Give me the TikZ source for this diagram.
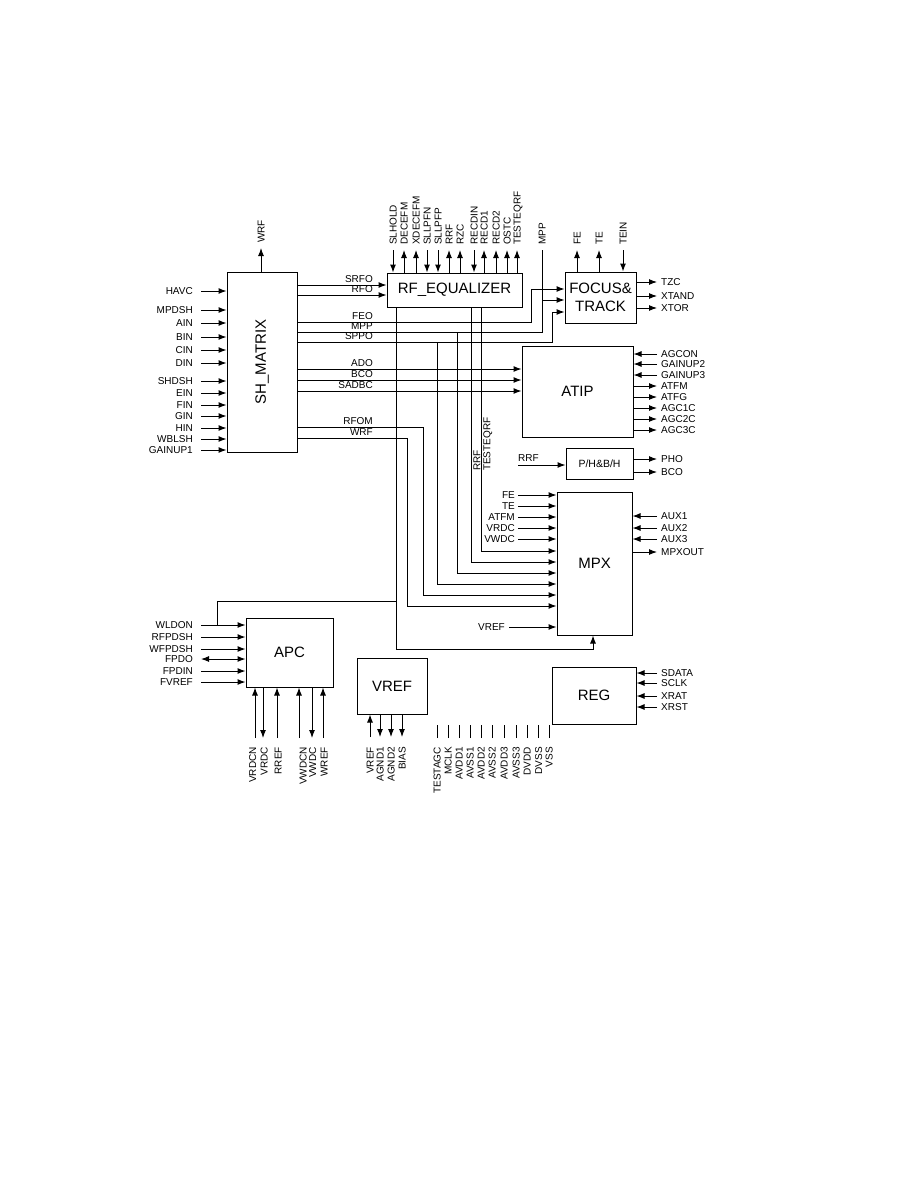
\documentclass[tikz,border=0pt]{standalone}
\usepackage{fontspec}
\setmainfont{Liberation Sans}
\usetikzlibrary{arrows.meta}

\tikzset{
  blk/.style={draw, line width=1pt, inner sep=0pt, align=center, font=\fontsize{15}{18}\selectfont},
  lbl/.style={inner sep=0pt, font=\fontsize{10}{12}\selectfont, text height=7.2pt, text depth=0pt},
  vlbl/.style={lbl, rotate=90},
  sig/.style={line width=1pt},
  pin/.style={sig, -{Latex[length=8pt,width=6pt]}},
  bipin/.style={sig, {Latex[length=8pt,width=6pt]}-{Latex[length=8pt,width=6pt]}}
}

\begin{document}
\begin{tikzpicture}[x=1pt, y=-1pt]
  \useasboundingbox (0,0) rectangle (918,1188);

  % --- Blocks ---
  \node[blk, minimum width=70pt, minimum height=180pt] (shm) at (262,362) {\rotatebox{90}{SH\_MATRIX}};
  \node[blk, minimum width=135pt, minimum height=34pt] (rfeq) at (454.5,290) {RF\_EQUALIZER};
  \node[blk, minimum width=71pt, minimum height=51pt] (ft) at (600.5,297.5) {FOCUS\&\\TRACK};
  \node[blk, minimum width=111pt, minimum height=91pt] (atip) at (577.5,391.5) {ATIP};
  \node[blk, minimum width=67pt, minimum height=31pt, font=\fontsize{10.5}{12}\selectfont] (ph) at (599.5,463.5) {P/H\&B/H};
  \node[blk, minimum width=75pt, minimum height=143pt] (mpx) at (594.5,563.5) {MPX};
  \node[blk, minimum width=87pt, minimum height=69pt] (apc) at (289.5,652.5) {APC};
  \node[blk, minimum width=70pt, minimum height=56pt] (vref) at (392,686) {VREF};
  \node[blk, minimum width=84pt, minimum height=57pt] (reg) at (594,695.5) {REG};

  % --- SH_MATRIX: inputs and WRF ---
  \foreach \nm/\yy in {HAVC/291, MPDSH/310, AIN/323, BIN/337, CIN/350, DIN/363, SHDSH/381,
                       EIN/393, FIN/405, GIN/416, HIN/428, WBLSH/439, GAINUP1/450}{
    \node[lbl, anchor=east] (sm-\nm) at (193,\yy) {\nm};
    \draw[pin] ([xshift=8pt]sm-\nm.east) -- (sm-\nm.east -| shm.west);
  }
  \node[vlbl, anchor=west] (sm-WRF) at (261,243) {WRF};
  \draw[pin] (sm-WRF.west |- shm.north) -- ([yshift=-5pt]sm-WRF.west);

  % SH_MATRIX output labels
  \foreach \nm/\yy in {SRFO/285, RFO/295, FEO/322, MPP/332, SPPO/342, ADO/369, BCO/380,
                       SADBC/391, RFOM/427, WRF/438}{
    \node[lbl, anchor=south east] (so-\nm) at (373,\yy-2) {\nm};
  }

  % --- RF_EQUALIZER pins ---
  \foreach \nm/\xx in {SLHOLD/393, SLLPFN/427, SLLPFP/438, RECDIN/474}{
    \node[vlbl, anchor=west] (et-\nm) at (\xx,245) {\nm};
    \draw[pin] ([yshift=-5pt]et-\nm.west) -- (et-\nm.west |- rfeq.north);
  }
  \foreach \nm/\xx in {DECEFM/404, XDECEFM/416, RRF/449, RZC/460, RECD1/484, RECD2/496,
                       OSTC/507, TESTEQRF/517}{
    \node[vlbl, anchor=west] (et-\nm) at (\xx,245) {\nm};
    \draw[pin] (et-\nm.west |- rfeq.north) -- ([yshift=-5pt]et-\nm.west);
  }
  \node[vlbl, anchor=west] (ext-MPP) at (542,245) {MPP};

  % SRFO, RFO into RF_EQUALIZER
  \draw[pin] (shm.east |- 0,285) -- (rfeq.west |- 0,285);
  \draw[pin] (shm.east |- 0,295) -- (rfeq.west |- 0,295);

  % FEO, MPP, SPPO into FOCUS&TRACK
  \draw[pin] (shm.east |- 0,322) -- (531,322) -- (531,289) -- (ft.west |- 0,289);
  \draw[sig] (shm.east |- 0,332) -- (ext-MPP.west |- 0,332) -- ([yshift=-5pt]ext-MPP.west);
  \draw[pin] (ext-MPP.west |- 0,300) -- (ft.west |- 0,300);
  \draw[pin] (shm.east |- 0,342) -- (552,342) -- (552,312) -- (ft.west |- 0,312);

  % ADO, BCO, SADBC into ATIP
  \foreach \yy in {369,380,391}{
    \draw[pin] (shm.east |- 0,\yy) -- (atip.west |- 0,\yy);
  }

  % routes down to MPX
  \draw[pin] (rfeq.south -| 481,0) -- (481,551) -- (mpx.west |- 0,551);
  \draw[pin] (rfeq.south -| 471,0) -- (471,562) -- (mpx.west |- 0,562);
  \draw[pin] (457,332) -- (457,573) -- (mpx.west |- 0,573);
  \draw[pin] (437,342) -- (437,584) -- (mpx.west |- 0,584);
  \draw[pin] (shm.east |- 0,427) -- (423,427) -- (423,595) -- (mpx.west |- 0,595);
  \draw[pin] (shm.east |- 0,438) -- (407,438) -- (407,606) -- (mpx.west |- 0,606);
  \draw[pin] (rfeq.south -| 396,0) -- (396,649) -- (593,649) -- (mpx.south -| 593,0);
  \node[vlbl, anchor=north west] (eq-RRF) at (473,471) {RRF};
  \node[vlbl, anchor=north west] (eq-TESTEQRF) at (483,471) {TESTEQRF};

  % --- FOCUS&TRACK pins ---
  \foreach \nm/\xx in {FE/577, TE/599}{
    \node[vlbl, anchor=west] (fo-\nm) at (\xx,245) {\nm};
    \draw[pin] (fo-\nm.west |- ft.north) -- ([yshift=-5pt]fo-\nm.west);
  }
  \node[vlbl, anchor=west] (fo-TEIN) at (623,245) {TEIN};
  \draw[pin] ([yshift=-5pt]fo-TEIN.west) -- (fo-TEIN.west |- ft.north);
  \foreach \nm/\yy in {TZC/282, XTAND/296, XTOR/308}{
    \node[lbl, anchor=west] (fr-\nm) at (661,\yy) {\nm};
    \draw[pin] (fr-\nm.west -| ft.east) -- ([xshift=-4pt]fr-\nm.west);
  }

  % --- ATIP pins ---
  \foreach \nm/\yy in {AGCON/354, GAINUP2/364, GAINUP3/375}{
    \node[lbl, anchor=west] (at-\nm) at (661,\yy) {\nm};
    \draw[pin] ([xshift=-4pt]at-\nm.west) -- (at-\nm.west -| atip.east);
  }
  \foreach \nm/\yy in {ATFM/386, ATFG/397, AGC1C/408, AGC2C/419, AGC3C/430}{
    \node[lbl, anchor=west] (at-\nm) at (661,\yy) {\nm};
    \draw[pin] (at-\nm.west -| atip.east) -- ([xshift=-4pt]at-\nm.west);
  }

  % --- P/H&B/H pins ---
  \node[lbl, anchor=south west] (ph-RRF) at (518,462) {RRF};
  \draw[pin] ([yshift=-3pt]ph-RRF.south west) -- (ph.west |- 0,465);
  \foreach \nm/\yy in {PHO/459, BCO/472}{
    \node[lbl, anchor=west] (pr-\nm) at (661,\yy) {\nm};
    \draw[pin] (pr-\nm.west -| ph.east) -- ([xshift=-4pt]pr-\nm.west);
  }

  % --- MPX pins ---
  \foreach \nm/\yy in {FE/495, TE/506, ATFM/517, VRDC/528, VWDC/539}{
    \node[lbl, anchor=east] (ml-\nm) at (515,\yy) {\nm};
    \draw[pin] ([xshift=3pt]ml-\nm.east) -- (ml-\nm.east -| mpx.west);
  }
  \node[lbl, anchor=east] (ml-VREF) at (505,627) {VREF};
  \draw[pin] ([xshift=4pt]ml-VREF.east) -- (ml-VREF.east -| mpx.west);
  \foreach \nm/\yy in {AUX1/516, AUX2/528, AUX3/539}{
    \node[lbl, anchor=west] (mr-\nm) at (661,\yy) {\nm};
    \draw[pin] ([xshift=-4pt]mr-\nm.west) -- (mr-\nm.west -| mpx.east);
  }
  \node[lbl, anchor=west] (mr-MPXOUT) at (661,552) {MPXOUT};
  \draw[pin] (mr-MPXOUT.west -| mpx.east) -- ([xshift=-4pt]mr-MPXOUT.west);

  % --- APC pins ---
  \foreach \nm/\yy in {WLDON/625, RFPDSH/637, WFPDSH/649, FPDIN/671, FVREF/682}{
    \node[lbl, anchor=east] (al-\nm) at (193,\yy) {\nm};
    \draw[pin] ([xshift=8pt]al-\nm.east) -- (al-\nm.east -| apc.west);
  }
  \node[lbl, anchor=east] (al-FPDO) at (193,659) {FPDO};
  \draw[bipin] ([xshift=8pt]al-FPDO.east) -- (al-FPDO.east -| apc.west);
  \draw[sig] (396,601) -- (217,601) -- (217,625);
  % pin x / label x
  \foreach \nm/\xx/\lx in {VRDCN/255/252.5, RREF/277/278, VWDCN/299/303, WREF/323/324}{
    \node[vlbl, anchor=east] (ab-\nm) at (\lx,747) {\nm};
    \coordinate (ab-\nm-end) at (\xx,738);
    \draw[pin] (ab-\nm-end) -- (ab-\nm-end |- apc.south);
  }
  \foreach \nm/\xx/\lx in {VRDC/263/264, VWDC/312/312.5}{
    \node[vlbl, anchor=east] (ab-\nm) at (\lx,747) {\nm};
    \coordinate (ab-\nm-end) at (\xx,738);
    \draw[pin] (ab-\nm-end |- apc.south) -- (ab-\nm-end);
  }

  % --- VREF pins ---
  \node[vlbl, anchor=east] (vb-VREF) at (370,747) {VREF};
  \draw[pin] ([yshift=10pt]vb-VREF.east) -- (vb-VREF.east |- vref.south);
  \foreach \nm/\xx in {AGND1/380, AGND2/391, BIAS/402}{
    \node[vlbl, anchor=east] (vb-\nm) at (\xx,747) {\nm};
    \draw[pin] (vb-\nm.east |- vref.south) -- ([yshift=10pt]vb-\nm.east);
  }

  % Power / test pins
  \foreach \nm/\xx in {TESTAGC/437, MCLK/448, AVDD1/459, AVSS1/470, AVDD2/481, AVSS2/492,
                       AVDD3/504, AVSS3/516, DVDD/527, DVSS/538.5, VSS/549}{
    \node[vlbl, anchor=east] (pw-\nm) at (\xx,747) {\nm};
    \draw[sig] ([yshift=9pt]pw-\nm.east) -- ([yshift=22pt]pw-\nm.east);
  }

  % --- REG pins ---
  \foreach \nm/\yy in {SDATA/673, SCLK/683, XRAT/696, XRST/707}{
    \node[lbl, anchor=west] (rg-\nm) at (661,\yy) {\nm};
    \draw[pin] ([xshift=-4pt]rg-\nm.west) -- (rg-\nm.west -| reg.east);
  }
\end{tikzpicture}
\end{document}
